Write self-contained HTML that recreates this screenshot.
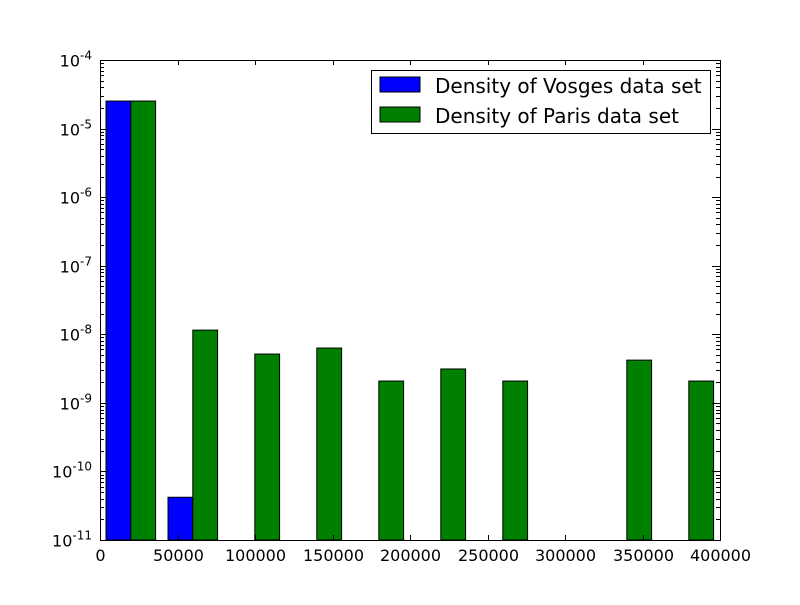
<!DOCTYPE html>
<html><head><meta charset="utf-8"><style>
body{margin:0;background:#fff;}
svg text{font-family:"DejaVu Sans","Liberation Sans",sans-serif;}
</style></head><body>
<svg id="chart" width="800" height="600" xmlns="http://www.w3.org/2000/svg">
<rect width="800" height="600" fill="#fff"/>
<g id="bars"></g>
<g id="axes"></g>
<g>
<rect x="371.5" y="70.5" width="339" height="63" fill="#fff" stroke="#000"/>
<rect x="380" y="77" width="40" height="15" fill="#0000ff" stroke="#000"/>
<text x="435" y="93" font-size="20">Density of Vosges data set</text>
<rect x="380" y="107" width="40" height="15" fill="#008000" stroke="#000"/>
<text x="435" y="123" font-size="20">Density of Paris data set</text>
</g>
</svg>
<script>
const binStarts=[3870,43870,83870,123870,163870,203870,243870,283870,323870,363870];
const binWidth=40000;
const vosges=[2.52e-5,4.2e-11,0,0,0,0,0,0,0,0];
const paris=[2.52e-5,1.15e-8,5.15e-9,6.3e-9,2.08e-9,3.12e-9,2.08e-9,0,4.2e-9,2.08e-9];
const xTicks=[0,50000,100000,150000,200000,250000,300000,350000,400000];
const yExps=[-11,-10,-9,-8,-7,-6,-5,-4];
const L=100,R=720,T=60,B=540;
const xs=v=>L+(v/400000)*(R-L);
const ys=v=>B-(Math.log10(v)+11)/7*(B-T);
const NS="http://www.w3.org/2000/svg";
function mk(tag,attrs,parent){const e=document.createElementNS(NS,tag);for(const k in attrs)e.setAttribute(k,attrs[k]);parent.appendChild(e);return e;}
const bars=document.getElementById('bars'),axes=document.getElementById('axes');
binStarts.forEach((s,i)=>{
 [[vosges,'#0000ff',0,'vosges'],[paris,'#008000',1,'paris']].forEach(([arr,c,k,n])=>{
  const v=arr[i]; if(!(v>0))return;
  const x0=xs(s+k*0.4*binWidth),x1=xs(s+(k+1)*0.4*binWidth),y=ys(v);
  const r=mk('rect',{x:x0,y:y,width:x1-x0,height:B-y,fill:c,stroke:'#000','stroke-width':1},bars);
  
  
 });
});
const frame=mk('rect',{x:L+.5,y:T+.5,width:R-L,height:B-T,fill:'none',stroke:'#000'},axes);


xTicks.forEach(v=>{
 const x=Math.round(xs(v))+.5;
 mk('line',{x1:x,x2:x,y1:B,y2:B-5,stroke:'#000'},axes);
 mk('line',{x1:x,x2:x,y1:T,y2:T+5,stroke:'#000'},axes);
 const t=mk('text',{x:x,y:B+21,'font-size':16,'text-anchor':'middle'},axes);
 t.textContent=v;
 
 
});
yExps.forEach((e,i)=>{
 const y=Math.round(ys(Math.pow(10,e)))+.5;
 mk('line',{x1:L,x2:L+8,y1:y,y2:y,stroke:'#000'},axes);
 mk('line',{x1:R,x2:R-8,y1:y,y2:y,stroke:'#000'},axes);
 const t=mk('text',{x:L-8,y:y+6,'font-size':16,'text-anchor':'end'},axes);
 t.innerHTML='10<tspan dy="-7" font-size="12">'+e+'</tspan>';
 
 
 if(i<yExps.length-1)for(let m=2;m<10;m++){
  const yy=Math.round(ys(m*Math.pow(10,e)))+.5;
  mk('line',{x1:L,x2:L+4,y1:yy,y2:yy,stroke:'#000'},axes);
  mk('line',{x1:R,x2:R-4,y1:yy,y2:yy,stroke:'#000'},axes);
 }
});
</script>
</body></html>
